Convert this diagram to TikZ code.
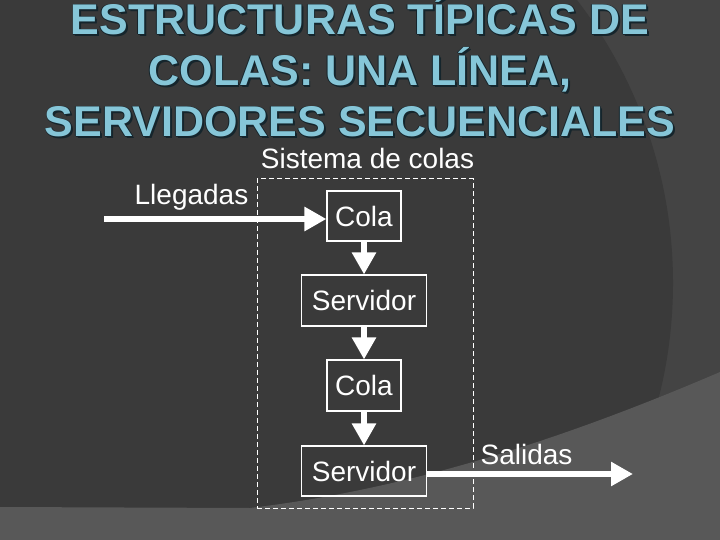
\documentclass[tikz,border=0pt]{standalone}
\usepackage{fontspec}
\setmainfont{Liberation Sans}
\usetikzlibrary{arrows.meta}
\definecolor{bgdark}{HTML}{3A3A3A}
\definecolor{bgmid}{HTML}{444444}
\definecolor{bglight}{HTML}{585858}
\definecolor{tblue}{HTML}{86C6D8}
\definecolor{tdark}{HTML}{15252C}
\newcommand\otxt[1]{\setbox0\hbox{#1}%
\rlap{\kern1.8pt\raise-1.8pt\hbox{\textcolor{tdark}{\copy0}}}%
\rlap{\kern-0.9pt\hbox{\textcolor{tdark}{\copy0}}}%
\rlap{\kern0.9pt\hbox{\textcolor{tdark}{\copy0}}}%
\rlap{\raise0.9pt\hbox{\textcolor{tdark}{\copy0}}}%
\rlap{\raise-0.9pt\hbox{\textcolor{tdark}{\copy0}}}%
\textcolor{tblue}{\copy0}}
\begin{document}
\begin{tikzpicture}[x=1bp,y=-1bp,
  box/.style={draw=white,line width=1.1bp,text=white,inner sep=0pt,font=\fontsize{28bp}{32bp}\selectfont},
  lbl/.style={text=white,inner sep=0pt,anchor=base,font=\fontsize{28bp}{32bp}\selectfont},
  flow/.style={white,line width=5.5bp,-{Triangle[length=22bp,width=23bp]}},
  ttl/.style={anchor=base,inner sep=0pt,font=\bfseries\fontsize{43bp}{51bp}\selectfont}]
\useasboundingbox (0,0) rectangle (720,540);
\fill[bgmid] (0,0) rectangle (720,540);
\begin{scope}
\clip (0,0) rectangle (720,540);
\fill[bgdark] (208,283) circle [radius=465bp];
\end{scope}
\fill[bglight] (0,507) -- (250,508) .. controls (400,490) and (550,445) .. (720,372) -- (720,540) -- (0,540) -- cycle;
% title
\node[ttl] (t1) at (360,35) {\otxt{ESTRUCTURAS TÍPICAS DE}};
\node[ttl] (t2) at (360,86) {\otxt{COLAS: UNA LÍNEA,}};
\node[ttl] (t3) at (360,137) {\otxt{SERVIDORES SECUENCIALES}};
% system frame
\node[draw=white,dash pattern=on 5bp off 3bp,line width=1bp,minimum width=216bp,minimum height=329bp,inner sep=0pt] (sys) at (365,343.5) {};
% boxes
\node[box,minimum width=74bp,minimum height=50bp] (c1) at (364,216) {Cola};
\node[box,minimum width=125bp,minimum height=51bp] (s1) at (364,300.5) {Servidor};
\node[box,minimum width=74bp,minimum height=51bp] (c2) at (364,385.5) {Cola};
\node[box,minimum width=125bp,minimum height=50bp] (s2) at (364,471) {Servidor};
% labels
\node[lbl] (ll) at (191.5,205) {Llegadas};
\node[lbl] (sc) at (367.5,169) {Sistema de colas};
\node[lbl] (sa) at (526.5,464) {Salidas};
% arrows
\coordinate (in) at (104,219);
\coordinate (out) at (633,474);
\draw[flow] (in) -- (in -| c1.west);
\draw[flow] (c1.south) -- (s1.north);
\draw[flow] (s1.south) -- (c2.north);
\draw[flow] (c2.south) -- (s2.north);
\draw[flow] (s2.east |- out) -- (out);
\end{tikzpicture}
\end{document}
